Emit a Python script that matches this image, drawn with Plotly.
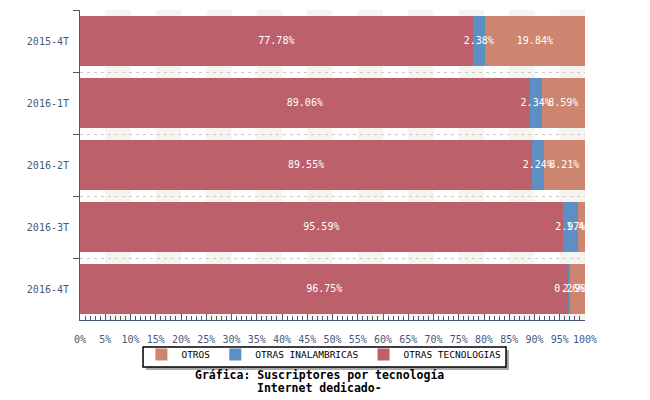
import plotly.graph_objects as go

categories = ["2015-4T", "2016-1T", "2016-2T", "2016-3T", "2016-4T"]
otras_tecnologias = [77.78, 89.06, 89.55, 95.59, 96.75]
otras_inalambricas = [2.38, 2.34, 2.24, 2.97, 0.26]
otros = [19.84, 8.59, 8.21, 1.44, 2.99]

series = [
    ("OTRAS TECNOLOGIAS", otras_tecnologias, "#BC606B"),
    ("OTRAS INALAMBRICAS", otras_inalambricas, "#5E8FC2"),
    ("OTROS", otros, "#CD8570"),
]

MONO = "DejaVu Sans Mono"
AXC = "#4A5878"

fig = go.Figure()
for name, vals, color in series:
    fig.add_trace(go.Bar(
        y=categories, x=vals, name=name, orientation="h",
        marker=dict(color=color, line=dict(width=0)),
    ))

# value labels drawn on top of all bars, centred on each segment
base = [0.0] * len(categories)
for name, vals, color in series:
    mids = [b + v / 2 for b, v in zip(base, vals)]
    fig.add_trace(go.Scatter(
        y=categories, x=mids, mode="text", text=[f"{v:.2f}%" for v in vals],
        textposition="middle center", textfont=dict(color="white", family=MONO, size=10),
        showlegend=False, hoverinfo="skip", cliponaxis=False,
    ))
    base = [b + v for b, v in zip(base, vals)]

# alternating background bands every 5%
shapes = []
for i in range(20):
    if i % 2 == 1:
        shapes.append(dict(type="rect", xref="x", yref="paper", x0=i * 5, x1=i * 5 + 5,
                           y0=0, y1=1, fillcolor="#F5F4EE", line=dict(width=0), layer="below"))
# legend shadow and box
shapes.append(dict(type="rect", xref="paper", yref="paper", x0=0.1307, x1=0.8495, y0=-0.1613, y1=-0.0968,
                   fillcolor="#AAAAAA", line=dict(width=0), layer="below"))
shapes.append(dict(type="rect", xref="paper", yref="paper", x0=0.1248, x1=0.8436, y0=-0.1516, y1=-0.0871,
                   fillcolor="white", line=dict(width=1.5, color="black"), layer="below"))

fig.update_layout(
    width=642, height=392,
    margin=dict(l=72, r=65, t=2, b=80, autoexpand=False),
    barmode="stack", bargap=0.18,
    paper_bgcolor="white", plot_bgcolor="white",
    showlegend=True,
    font=dict(family=MONO, size=10, color=AXC),
    legend=dict(orientation="h", x=0.483, xanchor="center", y=-0.0645, yanchor="top",
                traceorder="reversed", bgcolor="rgba(0,0,0,0)", borderwidth=0,
                font=dict(family=MONO, size=9.5, color="black"), itemwidth=30,
                tracegroupgap=0),
    shapes=shapes,
    xaxis=dict(range=[0, 100], tickmode="linear", tick0=0, dtick=5, ticksuffix="%",
               ticks="inside", ticklen=6, tickcolor=AXC, showgrid=False, zeroline=False,
               showline=True, linecolor=AXC, linewidth=1, automargin=False,
               ticklabelstandoff=10,
               minor=dict(dtick=1, ticks="inside", ticklen=4, tickcolor=AXC, showgrid=False),
               tickfont=dict(family=MONO, size=10, color=AXC)),
    yaxis=dict(autorange="reversed", tickson="boundaries", ticks="outside", ticklen=6,
               tickcolor=AXC, showline=True, linecolor=AXC, linewidth=1, automargin=False,
               ticklabelstandoff=8,
               showgrid=True, gridcolor="#C8C8C8", griddash="3px,4px", gridwidth=1,
               tickfont=dict(family=MONO, size=10, color=AXC)),
    annotations=[
        dict(text="<b>Gráfica: Suscriptores por tecnología</b>",
             xref="paper", yref="paper", x=0.475, y=-0.1774, yanchor="middle", showarrow=False,
             font=dict(family=MONO, size=11.5, color="black")),
        dict(text="<b>Internet dedicado-</b>",
             xref="paper", yref="paper", x=0.475, y=-0.2194, yanchor="middle", showarrow=False,
             font=dict(family=MONO, size=11.5, color="black")),
    ],
)

fig.write_html("out.html")
